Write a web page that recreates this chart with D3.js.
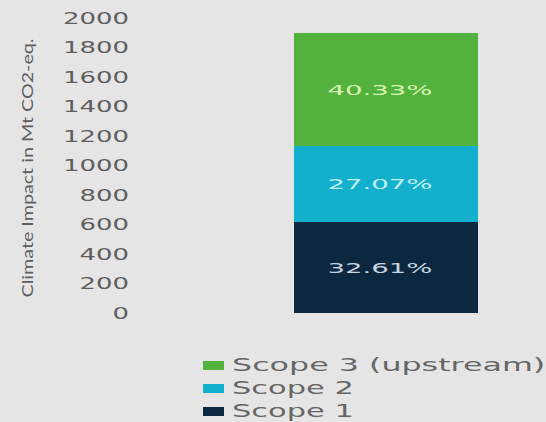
<!DOCTYPE html>
<html><head><meta charset="utf-8">
<script src="https://cdn.jsdelivr.net/npm/d3@7"></script>
<style>
html,body{margin:0;padding:0;background:#e5e5e5;}
svg{display:block;font-family:"Lato","DejaVu Sans",sans-serif;}
</style></head>
<body>
<svg id="c" width="546" height="422"></svg>
<script>
const series = ["Scope 1","Scope 2","Scope 3 (upstream)"];
const values = [617, 515, 766];
const percentLabels = ["32.61%","27.07%","40.33%"];
const colors = ["#0b2840","#13b0cd","#52b23d"];
const labelColors = ["#c8d5e0","#bff3ff","#d8f7b0"];
const yTicks = [0,200,400,600,800,1000,1200,1400,1600,1800,2000];
const category = ["Total"];

const svg = d3.select("#c");
const y = d3.scaleLinear().domain([0,2000]).range([313,18]);
const x = d3.scaleBand().domain(category).range([294,478]).padding(0);

svg.append("rect").attr("width",546).attr("height",422).attr("fill","#e5e5e5");

const axis = d3.axisLeft(y).tickValues(yTicks).tickFormat(d3.format("d")).tickSize(0).tickPadding(0);
const ag = svg.append("g").attr("transform","translate(129,0)").call(axis);
ag.select(".domain").remove();
ag.selectAll("text").attr("fill","#5e5e5e").attr("font-size",15).attr("dy","0.36em")
  .attr("font-family","'DejaVu Sans',sans-serif")
  .attr("textLength",function(){return this.textContent.length*16.5;})
  .attr("lengthAdjust","spacingAndGlyphs");

svg.append("text").attr("transform","translate(33,168) rotate(-90)")
  .attr("text-anchor","middle").attr("fill","#5e5e5e").attr("font-size",16)
  .attr("textLength",259).attr("lengthAdjust","spacingAndGlyphs")
  .text("Climate Impact in Mt CO2-eq.");

let cum = 0;
const stacks = values.map((v,i)=>{const s={i,v,y0:cum,y1:cum+v}; cum+=v; return s;});
svg.selectAll("rect.bar").data(stacks).enter().append("rect").attr("class","bar")
  .attr("x",x("Total")).attr("width",x.bandwidth())
  .attr("y",d=>y(d.y1)).attr("height",d=>y(d.y0)-y(d.y1))
  .attr("fill",d=>colors[d.i]);
svg.selectAll("text.pl").data(stacks).enter().append("text").attr("class","pl")
  .attr("x",x("Total")+x.bandwidth()/2-6).attr("y",d=>y((d.y0+d.y1)/2)).attr("dy","0.36em")
  .attr("text-anchor","middle").attr("font-size",14).attr("fill",d=>labelColors[d.i])
  .attr("font-family","'DejaVu Sans',sans-serif")
  .attr("textLength",105).attr("lengthAdjust","spacingAndGlyphs")
  .text(d=>percentLabels[d.i]);

const legendOrder = [2,1,0];
const lg = svg.append("g");
legendOrder.forEach((si,k)=>{
  const ly = 365 + k*23;
  lg.append("rect").attr("x",203).attr("y",ly-4).attr("width",21).attr("height",9).attr("fill",colors[si]);
  lg.append("text").attr("x",232).attr("y",ly).attr("dy","0.36em").attr("font-size",17)
    .attr("font-family","'DejaVu Sans',sans-serif")
    .attr("fill","#666").text(series[si])
    .attr("textLength", series[si].length*17.4).attr("lengthAdjust","spacingAndGlyphs");
});
</script>
</body></html>
